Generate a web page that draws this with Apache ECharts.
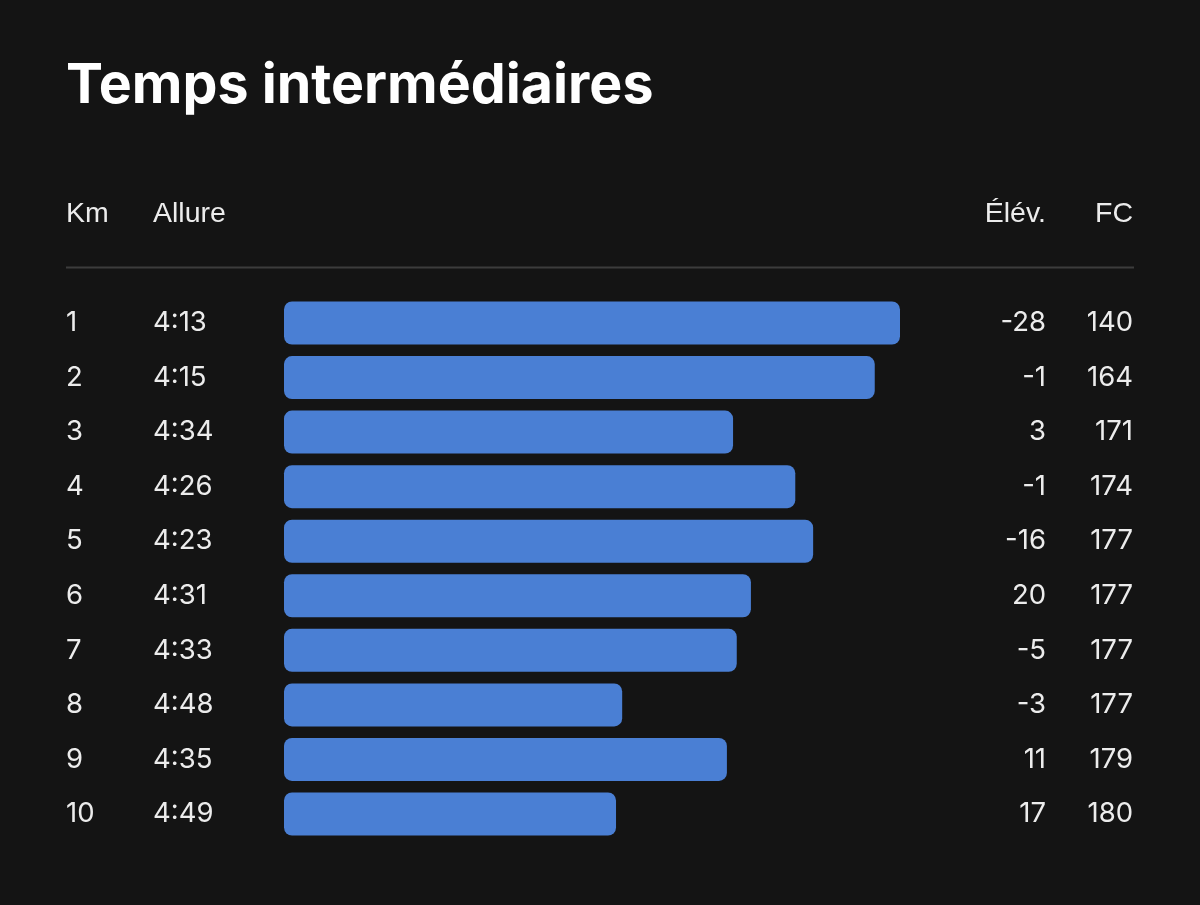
<!DOCTYPE html>
<html>
<head>
<meta charset="utf-8">
<script src="https://cdn.jsdelivr.net/npm/echarts@6/dist/echarts.min.js"></script>
<style>
html,body{margin:0;padding:0;background:#141414;}
#chart{width:1200px;height:905px;}
</style>
</head>
<body>
<div id="chart"></div>
<script>
const kmLabels = ['1','2','3','4','5','6','7','8','9','10'];
const paceLabels = ['4:13','4:15','4:34','4:26','4:23','4:31','4:33','4:48','4:35','4:49'];
const elevation = [-28, -1, 3, -1, -16, 20, -5, -3, 11, 17];
const heartRate = [140, 164, 171, 174, 177, 177, 177, 177, 179, 180];
// relative bar length (% of fastest split)
const barValues = [100, 95.9, 72.9, 83.0, 85.9, 75.8, 73.5, 54.9, 71.9, 53.9];
const headers = ['Km', 'Allure', 'Élév.', 'FC'];

const chart = echarts.init(document.getElementById('chart'));
const textColor = '#ececec';
const valFont = 'Inter';
const labelBase = {color: textColor, fontSize: 27.5, fontFamily: valFont, padding: [4, 0, 0, 0]};

function catAxis(position, data, margin, align){
  return {
    type: 'category', position: position, inverse: true, data: data,
    axisLine: {show: false}, axisTick: {show: false}, splitLine: {show: false},
    axisLabel: Object.assign({margin: margin, align: align}, labelBase)
  };
}

chart.setOption({
  backgroundColor: '#141414',
  animation: false,
  title: {
    text: 'Temps intermédiaires', left: 61, top: 53,
    textStyle: {color: '#ffffff', fontSize: 55.5, fontWeight: 'bold', fontFamily: 'Inter'}
  },
  grid: {left: 284, right: 300, top: 295.7, bottom: 63.7, containLabel: false},
  xAxis: {type: 'value', min: 0, max: 100, show: false},
  yAxis: [
    catAxis('left', kmLabels, 218, 'left'),
    catAxis('left', paceLabels, 131, 'left'),
    catAxis('right', elevation.map(String), 146, 'right'),
    catAxis('right', heartRate.map(String), 233, 'right')
  ],
  series: [{
    type: 'bar', yAxisIndex: 0, data: barValues, barWidth: 43,
    itemStyle: {color: '#4a7fd4', borderRadius: 8}, silent: true
  }],
  graphic: [
    {type: 'text', left: 66, top: 200, style: {text: headers[0], fill: textColor, font: '28.5px "Liberation Sans"'}},
    {type: 'text', left: 153, top: 200, style: {text: headers[1], fill: textColor, font: '28.5px "Liberation Sans"'}},
    {type: 'text', right: 154, top: 200, style: {text: headers[2], fill: textColor, font: '28.5px "Liberation Sans"'}},
    {type: 'text', right: 67, top: 200, style: {text: headers[3], fill: textColor, font: '28.5px "Liberation Sans"'}},
    {type: 'line', shape: {x1: 66, y1: 267.5, x2: 1134, y2: 267.5}, style: {stroke: '#3c3c3c', lineWidth: 2}}
  ]
});
</script>
</body>
</html>
